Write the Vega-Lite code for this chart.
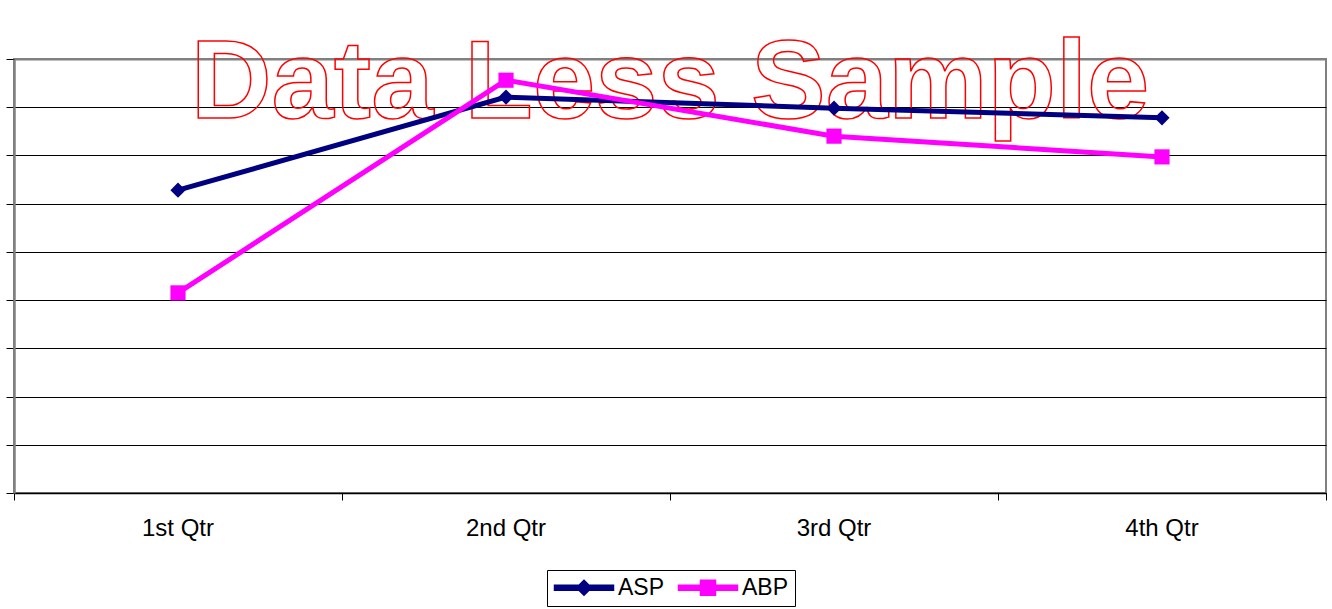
{
  "$schema": "https://vega.github.io/schema/vega-lite/v6.json",
  "width": 1312,
  "height": 434,
  "autosize": {"type": "none"},
  "padding": {"left": 14, "top": 59, "right": 6, "bottom": 116},
  "background": "white",
  "config": {
    "view": {"stroke": "#808080", "strokeWidth": 2},
    "font": "Liberation Sans"
  },
  "data": {
    "values": [
      {"q": "1st Qtr", "s": "ASP", "v": 62.8},
      {"q": "2nd Qtr", "s": "ASP", "v": 82.1},
      {"q": "3rd Qtr", "s": "ASP", "v": 79.8},
      {"q": "4th Qtr", "s": "ASP", "v": 77.8},
      {"q": "1st Qtr", "s": "ABP", "v": 41.5},
      {"q": "2nd Qtr", "s": "ABP", "v": 85.6},
      {"q": "3rd Qtr", "s": "ABP", "v": 74.0},
      {"q": "4th Qtr", "s": "ABP", "v": 69.7}
    ]
  },
  "layer": [
    {
      "data": {"values": [{"t": "Data Less Sample"}]},
      "mark": {
        "type": "text",
        "font": "Liberation Sans",
        "fontWeight": "bold",
        "fontSize": 112,
        "stroke": "red",
        "strokeWidth": 1.5,
        "fillOpacity": 0,
        "baseline": "alphabetic",
        "align": "center",
        "dy": 59
      },
      "encoding": {
        "text": {"field": "t"},
        "y": {"datum": 90, "type": "quantitative"}
      }
    },
    {
      "mark": {"type": "line", "strokeWidth": 5},
      "encoding": {
        "x": {
          "field": "q", "type": "nominal", "sort": null, "bandPosition": 0.5,
          "scale": {"type": "band", "paddingInner": 0, "paddingOuter": 0},
          "axis": {
            "title": null, "labelFontSize": 24, "labelColor": "black", "labelFont": "Liberation Sans",
            "labelPadding": 16, "tickSize": 7, "tickColor": "black", "domainColor": "black",
            "domainWidth": 1.5, "grid": false, "bandPosition": 1, "tickExtra": true, "labelAngle": 0
          }
        },
        "y": {
          "field": "v", "type": "quantitative",
          "scale": {"domain": [0, 90]},
          "axis": {
            "title": null, "labels": false,
            "values": [0, 10, 20, 30, 40, 50, 60, 70, 80, 90],
            "tickSize": 8, "tickColor": "black",
            "domainColor": "#808080", "domainWidth": 2.5,
            "grid": true,
            "gridColor": {"condition": {"test": "datum.value === 90", "value": "#808080"}, "value": "black"},
            "gridWidth": {"condition": {"test": "datum.value === 90", "value": 2}, "value": 1}
          }
        },
        "color": {
          "field": "s", "type": "nominal",
          "scale": {"domain": ["ASP", "ABP"], "range": ["#000080", "#FF00FF"]},
          "legend": {
            "title": null, "orient": "none", "legendX": 533, "legendY": 511, "direction": "horizontal",
            "padding": 6, "strokeColor": "black", "labelFontSize": 23, "labelFont": "Liberation Sans",
            "labelColor": "black", "labelOffset": 42, "columnPadding": 10, "symbolSize": 400,
            "symbolOpacity": 1,
            "symbolType": {"expr": "datum.value === 'ASP' ? 'M-1,-0.25L4.9,-0.25L4.9,0.25L-1,0.25Z M1.95,-0.75L2.7,0L1.95,0.75L1.2,0Z' : 'M-1,-0.25L4.9,-0.25L4.9,0.25L-1,0.25Z M1.2,-0.75L2.7,-0.75L2.7,0.75L1.2,0.75Z'"}
          }
        }
      }
    },
    {
      "mark": {"type": "square", "filled": true, "opacity": 1},
      "encoding": {
        "x": {"field": "q", "type": "nominal", "sort": null, "bandPosition": 0.5},
        "y": {"field": "v", "type": "quantitative"},
        "color": {"field": "s", "type": "nominal"},
        "angle": {"condition": {"test": "datum.s === 'ASP'", "value": 45}, "value": 0},
        "size": {"condition": {"test": "datum.s === 'ASP'", "value": 115}, "value": 230}
      }
    }
  ]
}
